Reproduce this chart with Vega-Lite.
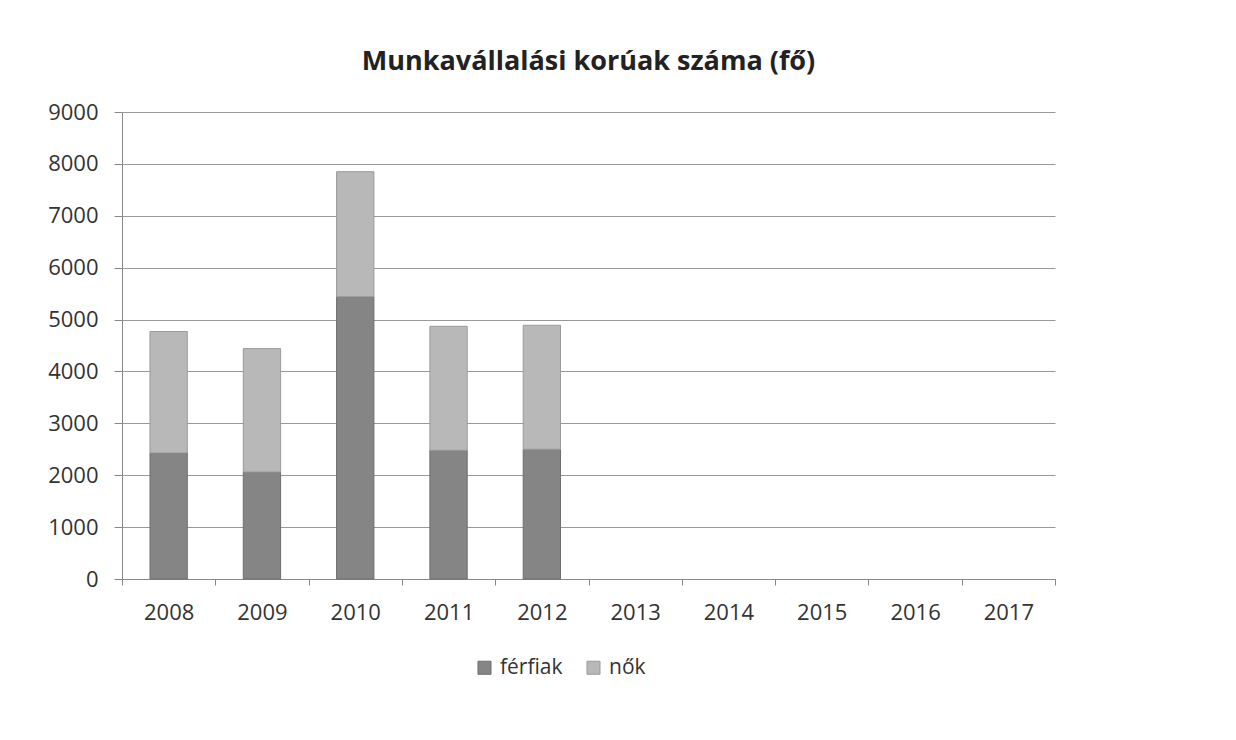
{
  "$schema": "https://vega.github.io/schema/vega-lite/v6.json",
  "autosize": "none",
  "width": 933,
  "height": 467,
  "padding": {"left": 122, "top": 112, "right": 181, "bottom": 161},
  "background": "white",
  "config": {
    "view": {"stroke": null},
    "font": "Open Sans",
    "axis": {"labelFont": "Open Sans", "labelFontSize": 22, "labelColor": "#333333"},
    "legend": {"labelFont": "Open Sans", "labelFontSize": 21, "labelColor": "#333333"}
  },
  "title": {
    "text": "Munkavállalási korúak száma (fő)",
    "fontSize": 27,
    "fontWeight": "bold",
    "color": "#222222",
    "anchor": "middle",
    "offset": 25
  },
  "data": {
    "values": [
      {"year": "2008", "sex": "férfiak", "value": 2430},
      {"year": "2008", "sex": "nők", "value": 2340},
      {"year": "2009", "sex": "férfiak", "value": 2060},
      {"year": "2009", "sex": "nők", "value": 2380},
      {"year": "2010", "sex": "férfiak", "value": 5440},
      {"year": "2010", "sex": "nők", "value": 2410},
      {"year": "2011", "sex": "férfiak", "value": 2480},
      {"year": "2011", "sex": "nők", "value": 2390},
      {"year": "2012", "sex": "férfiak", "value": 2500},
      {"year": "2012", "sex": "nők", "value": 2390}
    ]
  },
  "mark": {"type": "bar", "strokeWidth": 1, "width": {"band": 0.4}},
  "encoding": {
    "x": {
      "field": "year",
      "type": "ordinal",
      "scale": {
        "domain": ["2008", "2009", "2010", "2011", "2012", "2013", "2014", "2015", "2016", "2017"],
        "paddingInner": 0,
        "paddingOuter": 0
      },
      "axis": {
        "title": null,
        "labelAngle": 0,
        "labelPadding": 17,
        "tickBand": "extent",
        "tickSize": 6,
        "tickColor": "#888888",
        "domainColor": "#888888",
        "grid": false
      }
    },
    "y": {
      "field": "value",
      "type": "quantitative",
      "stack": "zero",
      "scale": {"domain": [0, 9000], "nice": false},
      "axis": {
        "title": null,
        "values": [0, 1000, 2000, 3000, 4000, 5000, 6000, 7000, 8000, 9000],
        "format": "d",
        "tickSize": 8,
        "tickColor": "#888888",
        "domainColor": "#888888",
        "gridColor": "#999999",
        "gridWidth": 1,
        "labelPadding": 16
      }
    },
    "color": {
      "field": "sex",
      "type": "nominal",
      "scale": {"domain": ["férfiak", "nők"], "range": ["#858585", "#b8b8b8"]},
      "legend": {
        "title": null,
        "orient": "none",
        "legendX": 352,
        "legendY": 545,
        "direction": "horizontal",
        "symbolType": "square",
        "symbolSize": 170,
        "symbolStrokeColor": "#666666",
        "symbolStrokeWidth": 1,
        "columnPadding": 20,
        "labelOffset": 5
      }
    },
    "stroke": {
      "field": "sex",
      "type": "nominal",
      "scale": {"domain": ["férfiak", "nők"], "range": ["#6e6e6e", "#9a9a9a"]},
      "legend": null
    },
    "order": {"field": "sex", "sort": "ascending"}
  }
}
